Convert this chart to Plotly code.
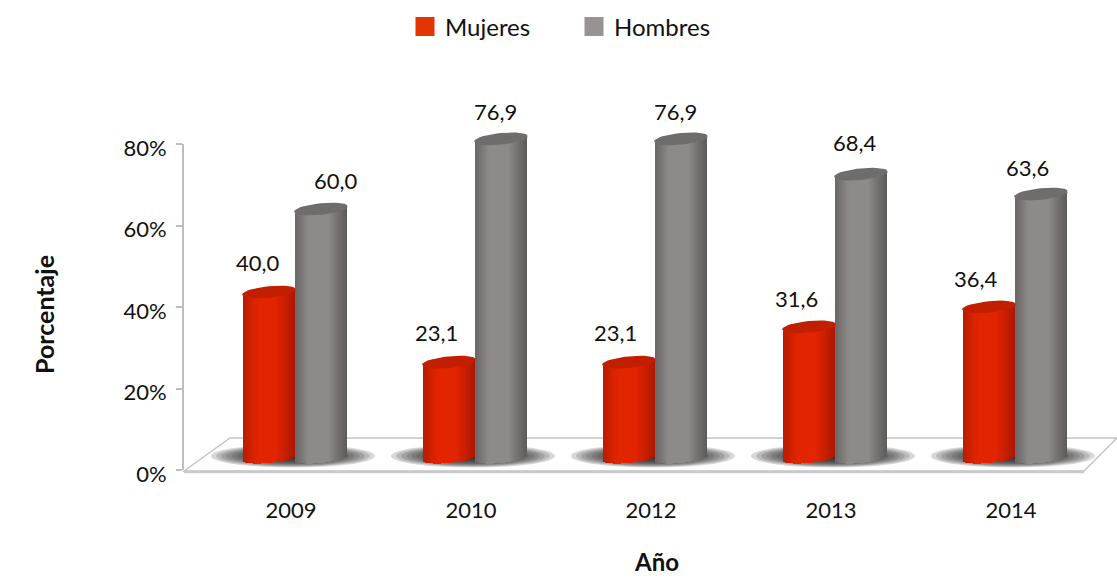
import math
import plotly.graph_objects as go

years = ["2009", "2010", "2012", "2013", "2014"]
mujeres = [40.0, 23.1, 23.1, 31.6, 36.4]
hombres = [60.0, 76.9, 76.9, 68.4, 63.6]
y_ticks = [0, 20, 40, 60, 80]
y_tick_labels = ["0%", "20%", "40%", "60%", "80%"]

# label nudges in px (style, not data)
muj_dx = [-11, -13, -14, -13, -13]
muj_dy = [30, 30, 30, 28, 28]
hom_dx = [15, -6, -6, -6, -14]
hom_dy = [29, 27, 27, 32, 27]

W, H = 1117, 579
FONT = "Lato, Carlito, Calibri, sans-serif"
TXT = "#111111"
PX_X = 180.0              # px per category
PX_Y = 4.15               # px per percent on the cylinder scale
BASE_PX = 458.0           # cylinder base
X0_PX = 184.0
TICK0_PX = 291.0
BW = 52.0 / PX_X
N = 26

def fx(px):
    return (px - TICK0_PX) / PX_X

x_idx = list(range(len(years)))
xrange_ = [fx(X0_PX), fx(W)]
y2range = [(BASE_PX - H) / PX_Y, BASE_PX / PX_Y]

RX = BW / 2
RYP = 5.0 / PX_Y   # ellipse half height
TILT = 2.5 / PX_Y  # right side higher

def mix(a, b, k):
    return "rgb(%d,%d,%d)" % tuple(round(a[i] + (b[i] - a[i]) * k) for i in range(3))

def shade(t, edge, mid):
    k = max(0.0, 1.0 - abs(t + 0.1) / 1.1)
    k = min(1.0, k * 1.5)
    return mix(edge, mid, k)

series = [
    ("Mujeres", mujeres, -48 / PX_X, (170, 24, 0), (226, 36, 0), "#c21e00", "#e23500", muj_dx, muj_dy),
    ("Hombres", hombres, 4 / PX_X, (92, 89, 89), (142, 138, 138), "#6f6c6c", "#989393", hom_dx, hom_dy),
]

fig = go.Figure()
annotations = []

for name, vals, off, edge, mid, cap, legend_col, dxs, dys in series:
    fig.add_trace(go.Scatter(
        x=[None], y=[None], mode="markers", name=name, showlegend=True,
        marker=dict(symbol="square", size=16, color=legend_col, line=dict(width=3, color=legend_col)),
    ))

for name, vals, off, edge, mid, cap, legend_col, dxs, dys in series:
    w = BW / N
    for j in range(N):
        t = -1 + (2 * j + 1) / N
        fig.add_trace(go.Bar(
            x=x_idx, y=vals,
            base=[-RYP * math.sqrt(1 - t * t) + TILT * t] * len(vals),
            offset=off + j * w, width=w * 1.1,
            marker=dict(color=shade(t, edge, mid), line=dict(width=0)),
            showlegend=False, hoverinfo="skip", yaxis="y2",
        ))
    xs, ys = [], []
    for i, v in zip(x_idx, vals):
        for k in range(41):
            a = 2 * math.pi * k / 40
            c = math.cos(a)
            xs.append(i + off + RX + RX * c)
            ys.append(v + TILT * c + RYP * math.sin(a))
        xs.append(None)
        ys.append(None)
    fig.add_trace(go.Scatter(
        x=xs, y=ys, mode="lines", fill="toself", fillcolor=cap,
        line=dict(width=1.5, color=cap), showlegend=False, hoverinfo="skip", yaxis="y2",
    ))
    for i, v, dx, dy in zip(x_idx, vals, dxs, dys):
        annotations.append(dict(
            x=i + off + RX, y=v, xref="x", yref="y2",
            text=f"{v:.1f}".replace(".", ","), showarrow=False,
            xshift=dx, yshift=dy, xanchor="center", yanchor="middle",
            font=dict(family=FONT, size=22, color=TXT),
        ))

annotations += [
    dict(x=44 / W, y=1 - 315 / H, xref="paper", yref="paper", text="<b>Porcentaje</b>", textangle=-90,
         xanchor="center", yanchor="middle", showarrow=False, font=dict(family=FONT, size=25, color=TXT)),
    dict(x=656 / W, y=1 - 561 / H, xref="paper", yref="paper", text="<b>Año</b>",
         xanchor="center", yanchor="middle", showarrow=False, font=dict(family=FONT, size=24, color=TXT)),
]

def px(x): return x / W
def py(y): return 1 - y / H

shapes = [
    # floor
    dict(type="path", xref="paper", yref="paper", layer="below",
         path=f"M {px(184)},{py(471)} L {px(230)},{py(438)} L {px(1117)},{py(438)} L {px(1084)},{py(471)} Z",
         fillcolor="#ffffff", line=dict(color="#c4c4c4", width=1.5)),
    dict(type="line", xref="paper", yref="paper", layer="below",
         x0=px(184), x1=px(1084), y0=py(472), y1=py(472), line=dict(color="#c9c9c9", width=2.5)),
]
# soft shadows beneath each cylinder pair
SH = 16
for i in x_idx:
    for s in range(SH):
        k = 1 - s / SH
        cx = i + 2 / PX_X
        rx = 82 / PX_X * k
        ry = 11.5 / PX_Y * k
        cy = 2 / PX_Y
        shapes.append(dict(type="circle", xref="x", yref="y2", layer="below",
                           x0=cx - rx, x1=cx + rx, y0=cy - ry, y1=cy + ry,
                           fillcolor="#2e2e2e", opacity=0.18, line=dict(width=0)))

fig.update_layout(
    width=W, height=H, autosize=False,
    margin=dict(l=0, r=0, t=0, b=0, autoexpand=False),
    paper_bgcolor="#ffffff", plot_bgcolor="rgba(0,0,0,0)",
    barmode="overlay", bargap=0,
    font=dict(family=FONT, size=22, color=TXT),
    hovermode=False,
    legend=dict(orientation="h", x=405 / W, y=1 - 27 / H, xanchor="left", yanchor="middle",
                entrywidth=124, entrywidthmode="pixels", bgcolor="rgba(0,0,0,0)",
                font=dict(family=FONT, size=24, color=TXT)),
    xaxis=dict(domain=[px(184), 1], range=xrange_, tickmode="array", tickvals=x_idx, ticktext=years,
               showline=False, showgrid=False, zeroline=False, ticks="", ticklabelstandoff=25,
               anchor="y", tickfont=dict(family=FONT, size=22, color=TXT)),
    yaxis=dict(domain=[py(470), py(144)], range=[0, 80], tickmode="array", tickvals=y_ticks,
               ticktext=y_tick_labels, showline=True, linecolor="#bdbdbd", linewidth=2, ticks="outside",
               ticklen=6, tickcolor="#bdbdbd", tickwidth=1.5, showgrid=False, zeroline=False,
               anchor="x", ticklabelstandoff=5, ticklabelshift=4,
               tickfont=dict(family=FONT, size=22, color=TXT)),
    yaxis2=dict(domain=[0, 1], range=y2range, visible=False, anchor="x"),
    annotations=annotations, shapes=shapes,
)

fig.write_html("out.html", config=dict(displayModeBar=False),
               post_script="document.documentElement.style.margin='0';document.body.style.margin='0';")
